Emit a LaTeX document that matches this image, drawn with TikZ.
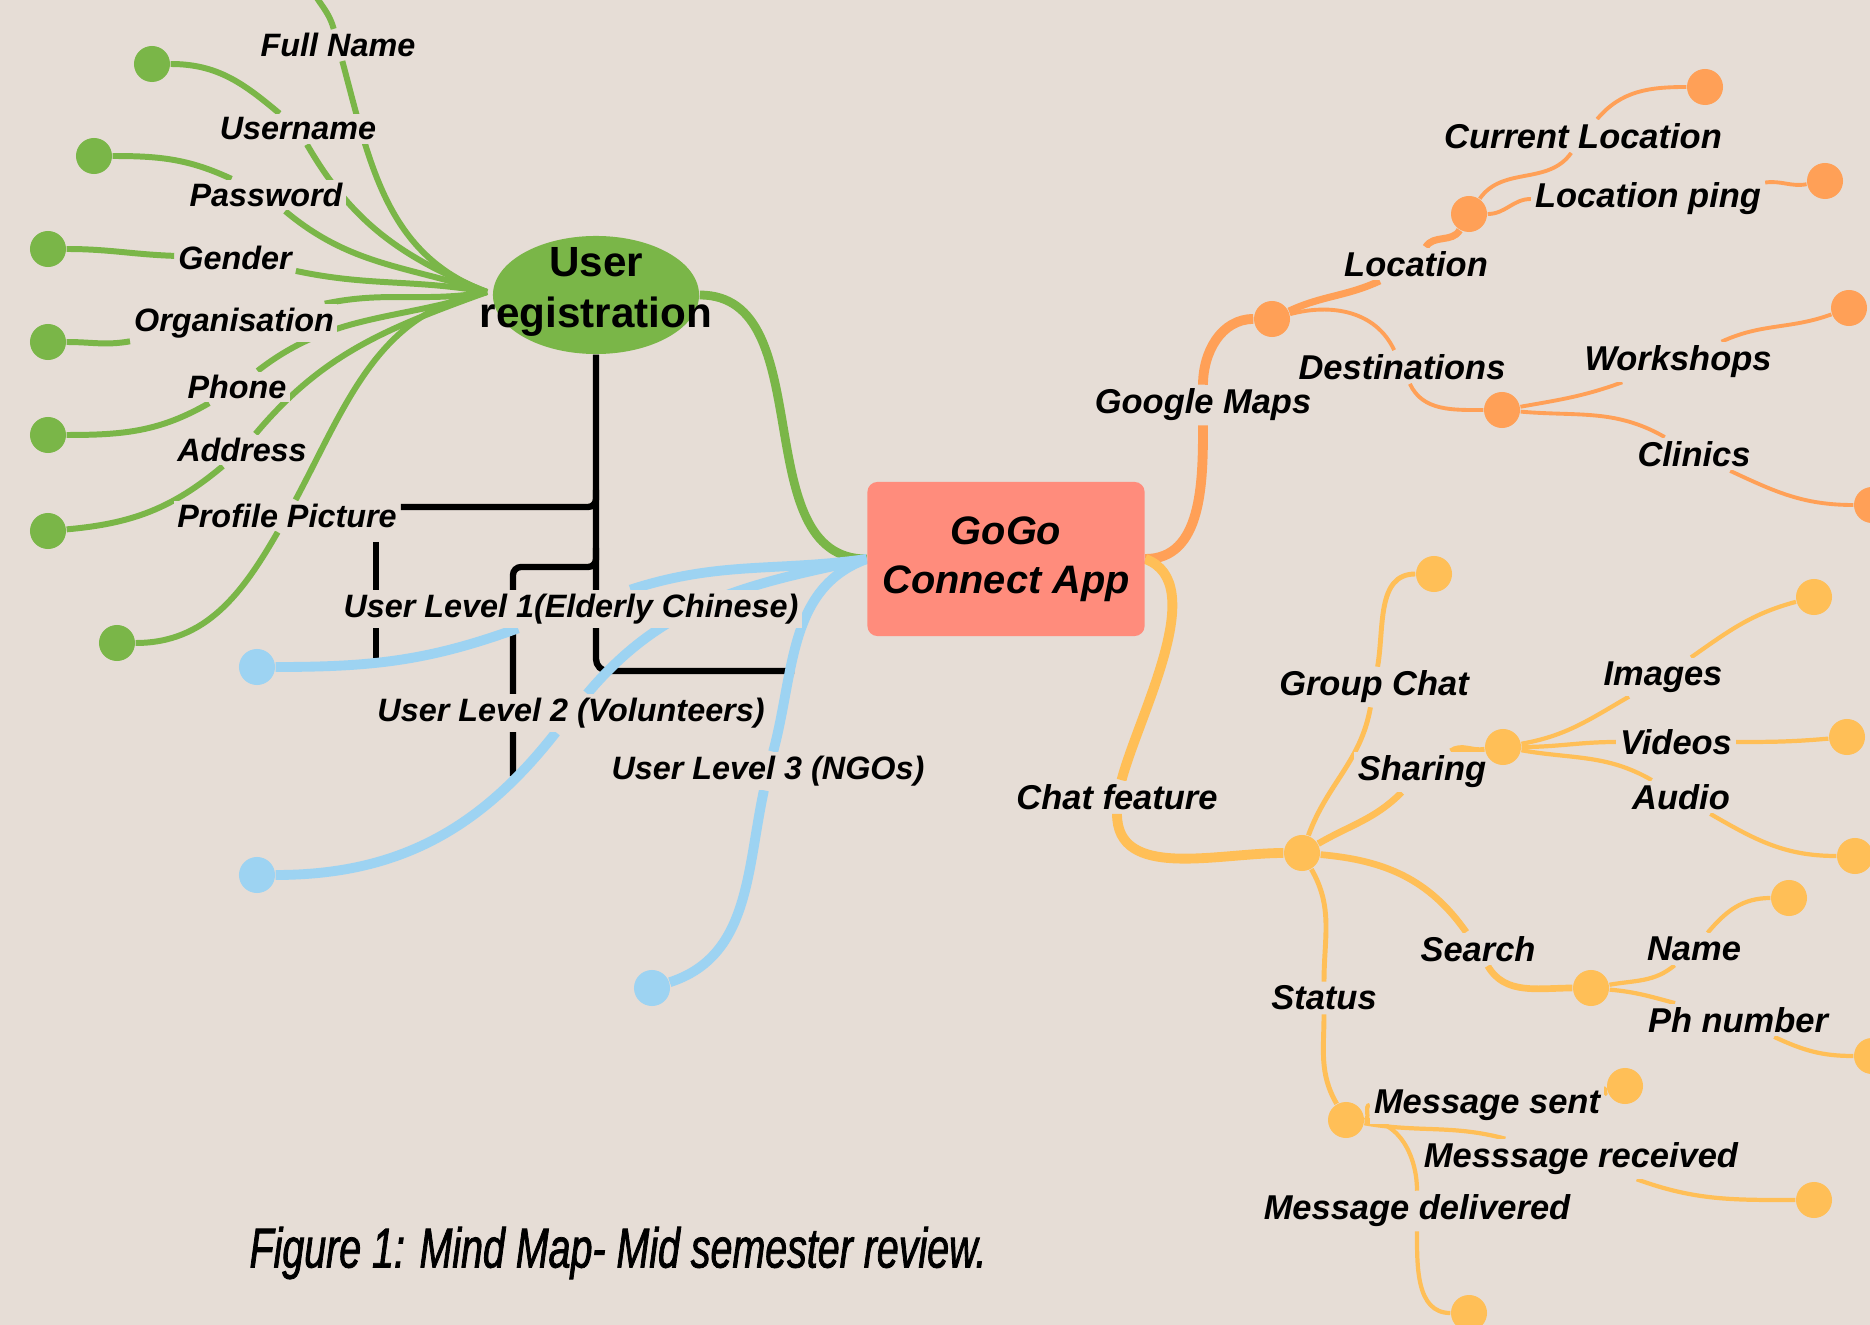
\documentclass[tikz,border=0pt]{standalone}
\usepackage{fontspec}
\setmainfont{Liberation Sans}
\newfontfamily\capfont[FakeStretch=0.7, FakeBold=1.4]{Liberation Sans}
\usepackage{xcolor}
\usetikzlibrary{shapes.geometric, math}
\definecolor{mybg}{RGB}{230,221,214}
\definecolor{mygreen}{RGB}{122,182,72}
\definecolor{myblue}{RGB}{157,211,242}
\definecolor{myorange}{RGB}{255,160,87}
\definecolor{myyellow}{RGB}{255,191,87}
\definecolor{mysalmon}{RGB}{255,140,124}
\pgfdeclarelayer{lines}
\pgfsetlayers{lines,main}

\begin{document}
\begin{tikzpicture}[x=0.01cm, y=-0.01cm,
  lbl/.style={fill=mybg, inner sep=1pt, font=\bfseries\itshape\fontsize{9.2}{11}\selectfont},
  rlbl/.style={lbl, font=\bfseries\itshape\fontsize{9.8}{11}\selectfont},
  leaf/.style={circle, fill=#1, inner sep=0pt, minimum size=\dotd cm},
  gline/.style={draw=mygreen, line width=1.7},
  uline/.style={draw=myblue, line width=2.8},
  oline/.style={draw=myorange, line width=1.1},
  yline/.style={draw=myyellow, line width=1.2},
  kline/.style={draw=black, line width=1.8}]
\tikzmath{
\dotd=0.36;
}
\useasboundingbox (0,0) rectangle (1870,1325);

%centre nodes:
\node[ellipse, fill=mygreen, minimum width=2.06cm, minimum height=1.18cm, inner sep=0pt] (reg) at (596,295) {};
\node[align=center, font=\bfseries\fontsize{12}{14.5}\selectfont] (regtxt) at (596,292) {User\\registration};
\node[rectangle, rounded corners=0.1cm, fill=mysalmon, minimum width=2.77cm, minimum height=1.54cm,
  align=center, font=\bfseries\itshape\fontsize{11.3}{13.9}\selectfont] (app) at (1006,559) {GoGo\\Connect App};

%green labels and dots:
\coordinate (hubG) at (487,292);
\coordinate (topFull) at (308,-20);
\node[lbl] (lFull) at (338,45) {Full Name};
\node[lbl] (lUser) at (298,129) {Username};
\node[lbl] (lPass) at (266,195) {Password};
\node[lbl] (lGen) at (235,258) {Gender};
\node[lbl] (lOrg) at (234,323) {Organisation};
\node[lbl] (lPhone) at (237,387) {Phone};
\node[lbl] (lAddr) at (242,450) {Address};
\node[lbl] (lProf) at (287,516) {Profile Picture};
\node[leaf=mygreen] (dUser) at (152,64) {};
\node[leaf=mygreen] (dPass) at (94,156) {};
\node[leaf=mygreen] (dGen) at (48,249) {};
\node[leaf=mygreen] (dOrg) at (48,342) {};
\node[leaf=mygreen] (dPhone) at (48,435) {};
\node[leaf=mygreen] (dAddr) at (48,531) {};
\node[leaf=mygreen] (dProf) at (117,643) {};

%user levels:
\node[lbl] (lUL1) at (571,609) {User Level 1(Elderly Chinese)};
\node[lbl] (lUL2) at (571,713) {User Level 2 (Volunteers)};
\node[lbl] (lUL3) at (768,771) {User Level 3 (NGOs)};
\node[leaf=myblue] (dUL1) at (257,667) {};
\node[leaf=myblue] (dUL2) at (257,875) {};
\node[leaf=myblue] (dUL3) at (652,988) {};

%google maps:
\node[rlbl] (lGoogle) at (1203,405) {Google Maps};
\node[rlbl] (lLoc) at (1416,264) {Location};
\node[rlbl] (lCur) at (1583,136) {Current Location};
\node[rlbl] (lPing) at (1648,199) {Location ping};
\node[rlbl] (lDest) at (1402,367) {Destinations};
\node[rlbl] (lWork) at (1678,362) {Workshops};
\node[rlbl] (lClin) at (1694,454) {Clinics};
\node[leaf=myorange] (dGM) at (1272,319) {};
\node[leaf=myorange] (dLoc) at (1469,214) {};
\node[leaf=myorange] (dCur) at (1705,87) {};
\node[leaf=myorange] (dPing) at (1825,181) {};
\node[leaf=myorange] (dDest) at (1502,410) {};
\node[leaf=myorange] (dWork) at (1849,308) {};
\node[leaf=myorange] (dClin) at (1872,505) {};

%chat feature:
\node[rlbl] (lChat) at (1117,797) {Chat feature};
\node[rlbl] (lGroup) at (1374,687) {Group Chat};
\node[rlbl] (lShar) at (1422,772) {Sharing};
\node[rlbl] (lImg) at (1663,677) {Images};
\node[rlbl] (lVid) at (1676,742) {Videos};
\node[rlbl] (lAud) at (1681,797) {Audio};
\node[rlbl] (lSearch) at (1478,949) {Search};
\node[rlbl] (lName) at (1694,949) {Name};
\node[rlbl] (lPh) at (1738,1020) {Ph number};
\node[rlbl] (lStatus) at (1324,998) {Status};
\node[rlbl] (lSent) at (1487,1105) {Message sent};
\node[rlbl] (lRec) at (1581,1159) {Messsage received};
\node[rlbl] (lDel) at (1417,1211) {Message delivered};
\node[leaf=myyellow] (dChat) at (1302,853) {};
\node[leaf=myyellow] (dGroup) at (1434,574) {};
\node[leaf=myyellow] (dShar) at (1503,747) {};
\node[leaf=myyellow] (dImg) at (1814,597) {};
\node[leaf=myyellow] (dVid) at (1847,737) {};
\node[leaf=myyellow] (dAud) at (1855,856) {};
\node[leaf=myyellow] (dSearch) at (1591,988) {};
\node[leaf=myyellow] (dName) at (1789,898) {};
\node[leaf=myyellow] (dPh) at (1872,1056) {};
\node[leaf=myyellow] (dStatus) at (1346,1120) {};
\node[leaf=myyellow] (dSent) at (1625,1086) {};
\node[leaf=myyellow] (dRec) at (1814,1200) {};
\node[leaf=myyellow] (dDel) at (1469,1313) {};

\node[font=\capfont\itshape\fontsize{16}{18}\selectfont] (cap) at (618,1253) {Figure 1: Mind Map- Mid semester review.};

\begin{pgfonlayer}{lines}
\fill[mybg] (0,0) rectangle (1870,1325);

%black brackets
\coordinate (bJ1) at (596,490);
\coordinate (bJ2) at (596,548);
\coordinate (bK) at (513,567);
\coordinate (bL) at (513,776);
\coordinate (bEnd) at (794,671);
\coordinate (bN) at (376,542);
\coordinate (bM) at (376,660);
\draw[kline, rounded corners=0.12cm] (reg.south) -- (bEnd -| reg.south) -- (bEnd);
\draw[kline, rounded corners=0.08cm] (bJ1) |- ([yshift=0.09cm]lProf.east);
\draw[kline, rounded corners=0.08cm] (bJ2) |- (bK) -- (bL);
\draw[kline] (bN) -- (bM);

%green
\draw[gline] (topFull) to[out=-72, in=105] (lFull) to[out=-75, in=160] (hubG);
\draw[gline] (dUser) to[out=0, in=140] (lUser) to[out=-60, in=158] (hubG);
\draw[gline] (dPass) to[out=0, in=155] (lPass) to[out=-40, in=162] (hubG);
\draw[gline] (dGen) to[out=0, in=178] (lGen) to[out=-12, in=170] (hubG);
\draw[gline] (dOrg) to[out=0, in=190] (lOrg) to[out=12, in=190] (hubG);
\draw[gline] (dPhone) to[out=0, in=210] (lPhone) to[out=38, in=198] (hubG);
\draw[gline] (dAddr) to[out=5, in=220] (lAddr) to[out=50, in=200] (hubG);
\draw[gline] (dProf) to[out=0, in=240] (lProf) to[out=62, in=190] (hubG);
\draw[gline, line width=2.5] (reg.east) to[out=0, in=180] (app.west);

%blue
\draw[uline] (app.west) to[out=188, in=18] (lUL1) to[out=200, in=0] (dUL1);
\draw[uline] (app.west) to[out=192, in=50] (lUL2) to[out=232, in=0] (dUL2);
\draw[uline] (app.west) to[out=200, in=75] (lUL3) to[out=258, in=18] (dUL3);

%orange
\draw[oline, line width=2.8] (app.east) to[out=0, in=-90] (lGoogle) to[out=90, in=180] (dGM);
\draw[oline, line width=2] (dGM) to[out=25, in=205] (lLoc) to[out=60, in=240] (dLoc);
\draw[oline] (dLoc) to[out=55, in=235] (lCur) to[out=50, in=180] (dCur);
\draw[oline] (dLoc) to[out=0, in=180] (lPing) to[out=8, in=190] (dPing);
\draw[oline] (dGM) to[out=15, in=115] (lDest) to[out=-65, in=180] (dDest);
\draw[oline] (dDest) to[out=10, in=200] (lWork) to[out=25, in=200] (dWork);
\draw[oline] (dDest) to[out=-5, in=150] (lClin) to[out=-25, in=180] (dClin);

%yellow
\draw[yline, line width=2.8] (app.east) to[out=-20, in=75, looseness=0.8] (lChat) to[out=-90, in=180] (dChat);
\draw[yline, line width=1.4] (dChat) to[out=70, in=-100] (lGroup) to[out=80, in=180] (dGroup);
\draw[yline, line width=1.9] (dChat) to[out=30, in=225] (lShar) to[out=35, in=190] (dShar);
\draw[yline] (dShar) to[out=10, in=210] (lImg) to[out=35, in=195] (dImg);
\draw[yline] (dShar) to[out=0, in=180] (lVid) to[out=0, in=185] (dVid);
\draw[yline] (dShar) to[out=-10, in=150] (lAud) to[out=-30, in=180] (dAud);
\draw[yline, line width=1.9] (dChat) to[out=-5, in=125] (lSearch) to[out=-60, in=180] (dSearch);
\draw[yline] (dSearch) to[out=10, in=220] (lName) to[out=50, in=180] (dName);
\draw[yline] (dSearch) to[out=-5, in=165] (lPh) to[out=-25, in=180] (dPh);
\draw[yline, line width=1.4] (dChat) to[out=-60, in=90] (lStatus) to[out=-90, in=120] (dStatus);
\draw[yline] (dStatus) to[out=0, in=180] (lSent) to[out=5, in=185] (dSent);
\draw[yline] (dStatus) to[out=-10, in=165] (lRec) to[out=-20, in=180] (dRec);
\draw[yline] (dStatus) to[out=0, in=90] (lDel) to[out=-90, in=180] (dDel);
\end{pgfonlayer}
\end{tikzpicture}
\end{document}
